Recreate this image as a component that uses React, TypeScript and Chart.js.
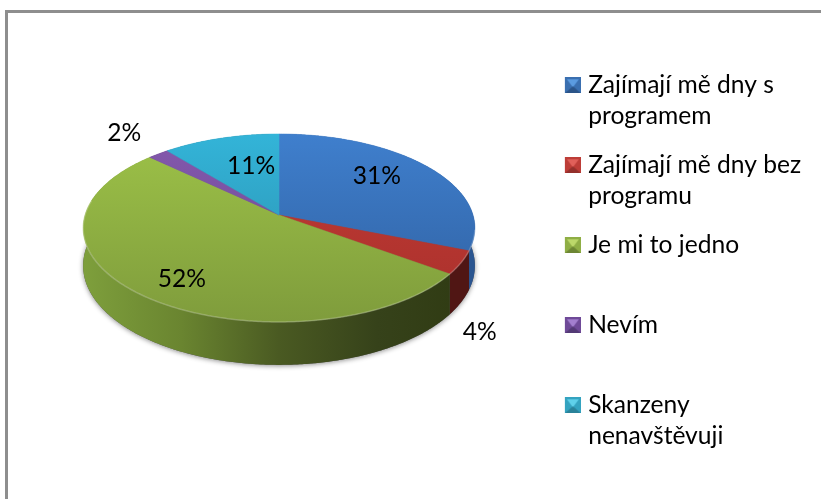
import React, { useEffect, useRef } from "react";
import { Chart, registerables } from "chart.js";

Chart.register(...registerables);

const categories = ["Zajímají mě dny s programem", "Zajímají mě dny bez programu", "Je mi to jedno", "Nevím", "Skanzeny nenavštěvuji"];
const legendLines = [["Zajímají mě dny s", "programem"], ["Zajímají mě dny bez", "programu"], ["Je mi to jedno", ""], ["Nevím", ""], ["Skanzeny", "nenavštěvuji"]];
const values = [31, 4, 52, 2, 11];

const topLight = ["#3f7fcd", "#c23b34", "#9dc248", "#8459ad", "#33b4d8"];
const topDark = ["#2f5f9f", "#a9302c", "#7f9c3c", "#6b4691", "#2a8cab"];
const rimStops = [
  ["#2a5590", "#2a5590"],
  ["#501614", "#501614"],
  ["#7e9f3c", "#6a8530", "#4a5a22", "#36421a", "#2f3a12"],
  ["#3d2a55", "#3d2a55"],
  ["#1c6a80", "#1c6a80"],
];
const boxLight = ["#5b9be0", "#e0605a", "#bcd86a", "#a37fcf", "#5fd0ea"];
const boxMid = ["#3a6fb0", "#bd3d38", "#8fae45", "#6f4a98", "#34a3c0"];
const boxDark = ["#2b5488", "#93302c", "#6d8634", "#533a75", "#2a8299"];

const labelRadius = [0.64, 1.09, 0.76, 1.36, 0.5];
const labelDx = [0, 1, 5, 4, 3];
const labelDy = [-7, 65, 5, -2, -8];

const CX = 279, CY = 215, A = 194, B = 92.2, P = 0.138, DEPTH = 37;
const LEFT = 83, RIGHT = 475, TOP = 134, BOTTOM = 322;
const FONT = "Lato";
const FONT_SIZE = 24.6;

function project(theta: number, r: number, drop = 0) {
  const w = 1 + P * r * Math.cos(theta);
  return {
    x: CX + (A * r * Math.sin(theta)) / w,
    y: CY - (B * r * Math.cos(theta)) / w + (drop * DEPTH) / w,
  };
}

function traceArc(ctx: CanvasRenderingContext2D, a0: number, a1: number, drop: number, first: boolean) {
  const n = Math.max(2, Math.ceil(Math.abs(a1 - a0) / 0.01));
  for (let i = 0; i <= n; i++) {
    const t = a0 + ((a1 - a0) * i) / n;
    const p = project(t, 1, drop);
    if (i === 0 && first) ctx.moveTo(p.x, p.y);
    else ctx.lineTo(p.x, p.y);
  }
}

function makeBox(i: number) {
  const c = document.createElement("canvas");
  c.width = 22;
  c.height = 16;
  const x = c.getContext("2d")!;
  x.translate(6, 0);
  x.fillStyle = boxMid[i];
  x.fillRect(0, 0, 16, 16);
  const tri = (pts: number[][], col: string) => {
    x.fillStyle = col;
    x.beginPath();
    pts.forEach((p, k) => (k ? x.lineTo(p[0], p[1]) : x.moveTo(p[0], p[1])));
    x.closePath();
    x.fill();
  };
  tri([[2, 2], [14, 2], [8, 10]], boxLight[i]);
  tri([[0, 16], [16, 16], [8, 9]], boxDark[i]);
  return c;
}

const pie3d = {
  id: "pie3d",
  beforeDraw(chart: any) {
    const ctx = chart.ctx;
    ctx.save();
    ctx.strokeStyle = "#8e8e8e";
    ctx.lineWidth = 3;
    ctx.beginPath();
    ctx.moveTo(821, 11.5);
    ctx.lineTo(6.5, 11.5);
    ctx.lineTo(6.5, 499);
    ctx.stroke();
    ctx.restore();
  },
  beforeDatasetsDraw(chart: any) {
    const ctx: CanvasRenderingContext2D = chart.ctx;
    const arcs = chart.getDatasetMeta(0).data;
    const theta = (a: number) => a + Math.PI / 2;

    // soft shadow under the whole body
    ctx.save();
    ctx.shadowColor = "rgba(0,0,0,0.45)";
    ctx.shadowBlur = 5;
    ctx.shadowOffsetY = 1;
    ctx.fillStyle = "#555";
    ctx.beginPath();
    traceArc(ctx, -Math.PI, Math.PI, 1, true);
    ctx.closePath();
    ctx.fill();
    ctx.restore();

    // side wall
    arcs.forEach((arc: any, i: number) => {
      const g = ctx.createLinearGradient(LEFT, 0, RIGHT, 0);
      rimStops[i].forEach((c, k) => g.addColorStop(k / (rimStops[i].length - 1), c));
      const a0 = theta(arc.startAngle), a1 = theta(arc.endAngle);
      ctx.beginPath();
      traceArc(ctx, a0, a1, 0, true);
      traceArc(ctx, a1, a0, 1, false);
      ctx.closePath();
      ctx.fillStyle = g;
      ctx.fill();
    });

    // top face
    arcs.forEach((arc: any, i: number) => {
      const g = ctx.createLinearGradient(0, TOP, 0, BOTTOM);
      g.addColorStop(0, topLight[i]);
      g.addColorStop(1, topDark[i]);
      const a0 = theta(arc.startAngle), a1 = theta(arc.endAngle);
      const c = project(0, 0);
      ctx.beginPath();
      ctx.moveTo(c.x, c.y);
      traceArc(ctx, a0, a1, 0, false);
      ctx.closePath();
      ctx.fillStyle = g;
      ctx.fill();
      ctx.strokeStyle = g;
      ctx.lineWidth = 0.5;
      ctx.stroke();
    });

    // bevel highlight at the rim
    ctx.save();
    ctx.strokeStyle = "rgba(255,255,255,0.22)";
    ctx.lineWidth = 1.5;
    ctx.beginPath();
    traceArc(ctx, Math.PI * 0.55, Math.PI * 1.55, 0, true);
    ctx.stroke();
    ctx.restore();

    // data labels
    ctx.save();
    ctx.fillStyle = "#000";
    ctx.font = `${FONT_SIZE}px ${FONT}`;
    ctx.textAlign = "center";
    ctx.textBaseline = "middle";
    arcs.forEach((arc: any, i: number) => {
      const mid = theta((arc.startAngle + arc.endAngle) / 2);
      const p = project(mid, labelRadius[i]);
      ctx.fillText(`${values[i]}%`, p.x + labelDx[i], p.y + labelDy[i]);
    });
    ctx.restore();
    return false;
  },
};

export default function App() {
  const ref = useRef<HTMLCanvasElement | null>(null);
  useEffect(() => {
    if (!ref.current) return;
    const chart = new Chart(ref.current, {
      type: "pie",
      data: {
        labels: categories,
        datasets: [{ data: values, backgroundColor: boxMid, borderWidth: 0 }],
      },
      options: {
        responsive: false,
        animation: false,
        layout: { padding: { top: 55, right: 10, left: 10, bottom: 0 } },
        plugins: {
          tooltip: { enabled: false },
          legend: {
            position: "right",
            align: "start",
            labels: {
              usePointStyle: true,
              boxWidth: 12,
              boxHeight: 16,
              padding: 18,
              color: "#000",
              font: { family: FONT, size: FONT_SIZE, lineHeight: "31px" },
              generateLabels: () =>
                legendLines.map((text, i) => ({
                  text,
                  datasetIndex: 0,
                  index: i,
                  hidden: false,
                  fillStyle: boxMid[i],
                  strokeStyle: boxMid[i],
                  lineWidth: 0,
                  fontColor: "#000",
                  pointStyle: makeBox(i),
                })),
            },
          },
        },
      } as any,
      plugins: [pie3d],
    });
    return () => chart.destroy();
  }, []);
  return (
    <div style={{ position: "absolute", left: 0, top: 0, width: 821, height: 499, background: "#fff" }}>
      <canvas ref={ref} width={821} height={499} style={{ display: "block" }} />
    </div>
  );
}
